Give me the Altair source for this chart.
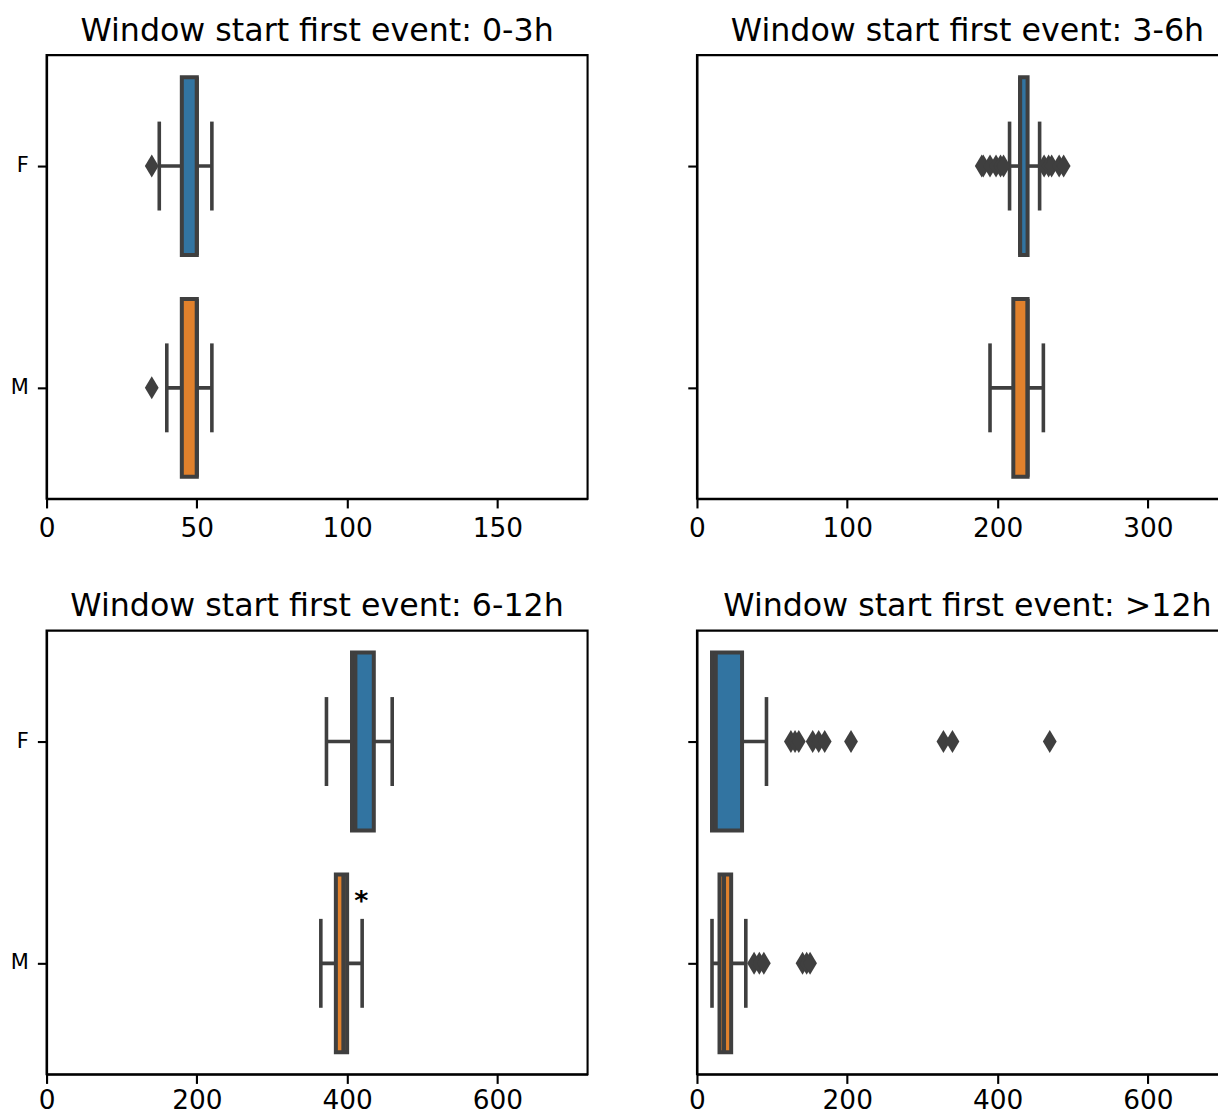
import altair as alt
import pandas as pd

# ---------------- data ----------------
titles = [
    "Window start first event: 0-3h",
    "Window start first event: 3-6h",
    "Window start first event: 6-12h",
    "Window start first event: >12h",
]
x_max = [180, 360, 720, 720]
x_ticks = [[0, 50, 100, 150], [0, 100, 200, 300], [0, 200, 400, 600], [0, 200, 400, 600]]
groups = ["F", "M"]

# per panel: [F, M]
q1 = [[45, 45], [215, 210.5], [406.5, 385], [20, 30]]
median = [[50, 50], [215, 220], [411, 395], [25, 36]]
q3 = [[50, 50], [220, 220], [435.5, 400], [60, 45.5]]
whisk_lo = [[37.5, 40], [208, 195], [372.5, 365], [20, 20]]
whisk_hi = [[55, 55], [228, 230.5], [460, 420], [92.5, 65]]

outliers_F = [
    [35],
    [189.5, 190.5, 195, 199, 202, 204, 231, 234, 236, 241, 244],
    [],
    [125, 130.5, 135.5, 154, 162, 170, 205, 328, 340, 469.5],
]
outliers_M = [
    [35],
    [],
    [],
    [76, 83, 89, 140.5, 146, 150.5],
]

# significance marker (panel 6-12h, above the M box)
star_panel = 2
star_group = "M"
star_x = 419
star_text = "*"

# ---------------- style ----------------
box_colors = ["#3274a1", "#e1812c"]
gray = "#3f3f3f"
diamond = "M0,-1L0.6,0L0,1L-0.6,0Z"
FONT = "DejaVu Sans"
PW, PH = 541.5, 444


def panel(i, show_ylabels):
    box_df = pd.DataFrame({
        "sex": groups,
        "q1": q1[i],
        "med": median[i],
        "q3": q3[i],
        "lo": whisk_lo[i],
        "hi": whisk_hi[i],
    })
    out_df = pd.DataFrame({
        "sex": ["F"] * len(outliers_F[i]) + ["M"] * len(outliers_M[i]),
        "v": outliers_F[i] + outliers_M[i],
    })
    xs = alt.Scale(domain=[0, x_max[i]], nice=False, zero=False)
    ys = alt.Scale(domain=groups, paddingInner=0, paddingOuter=0)
    xaxis = alt.Axis(values=x_ticks[i], title=None, grid=False, labelFlush=False,
                     labelPadding=8 if i < 2 else 4)
    yaxis = alt.Axis(title=None, labels=show_ylabels, grid=False)

    def X(f):
        return alt.X(f"{f}:Q", scale=xs, axis=xaxis)

    def Y():
        return alt.Y("sex:N", scale=ys, axis=yaxis, sort=groups)

    base = alt.Chart(box_df)
    whisk = base.mark_rule(color=gray, strokeWidth=3.6).encode(
        x=X("lo"), x2="hi:Q", y=Y())
    cap_lo = base.mark_tick(color=gray, thickness=3.6, size=89, opacity=1).encode(
        x=X("lo"), y=Y())
    cap_hi = base.mark_tick(color=gray, thickness=3.6, size=89, opacity=1).encode(
        x=X("hi"), y=Y())
    box = base.mark_bar(size=178, stroke=gray, strokeWidth=4, opacity=1).encode(
        x=X("q1"), x2="q3:Q", y=Y(),
        color=alt.Color("sex:N", scale=alt.Scale(domain=groups, range=box_colors), legend=None),
    )
    med = base.mark_tick(color=gray, thickness=4, size=178, opacity=1).encode(
        x=X("med"), y=Y())
    layers = [whisk, cap_lo, cap_hi, box, med]
    if len(out_df):
        pts = alt.Chart(out_df).mark_point(
            shape=diamond, size=529, filled=True, color=gray, opacity=1
        ).encode(x=X("v"), y=Y())
        layers.append(pts)
    if i == star_panel:
        star_df = pd.DataFrame({"sex": [star_group], "sx": [star_x], "t": [star_text]})
        star = alt.Chart(star_df).mark_text(
            fontSize=27, fontWeight="bold", font=FONT, color="black",
            align="center", baseline="alphabetic", dy=-53,
        ).encode(x=X("sx"), y=Y(), text="t:N")
        layers.append(star)
    return alt.layer(*layers).properties(
        width=PW, height=PH,
        title=alt.TitleParams(titles[i]),
    )


chart = alt.concat(
    panel(0, True), panel(1, False), panel(2, True), panel(3, False),
    columns=2,
    spacing={"row": 132, "column": 109},
    bounds="flush",
).properties(
    padding={"left": 0.6, "top": 5.7, "right": -21.5, "bottom": 0},
    background="white",
).configure_view(
    stroke="black", strokeWidth=2.1,
).configure_axis(
    domainColor="black", domainWidth=2.1,
    tickColor="black", tickWidth=2.1, tickSize=9.2,
    labelFont=FONT, labelColor="black", grid=False,
).configure_axisX(
    labelFontSize=26.4,
).configure_axisY(
    labelFontSize=21, labelPadding=9,
).configure_title(
    font=FONT, fontSize=31.7, fontWeight="normal", color="black",
    anchor="middle", frame="group", baseline="alphabetic", offset=7.7,
)

chart.save("out.html", embed_options={"renderer": "svg", "actions": False})
